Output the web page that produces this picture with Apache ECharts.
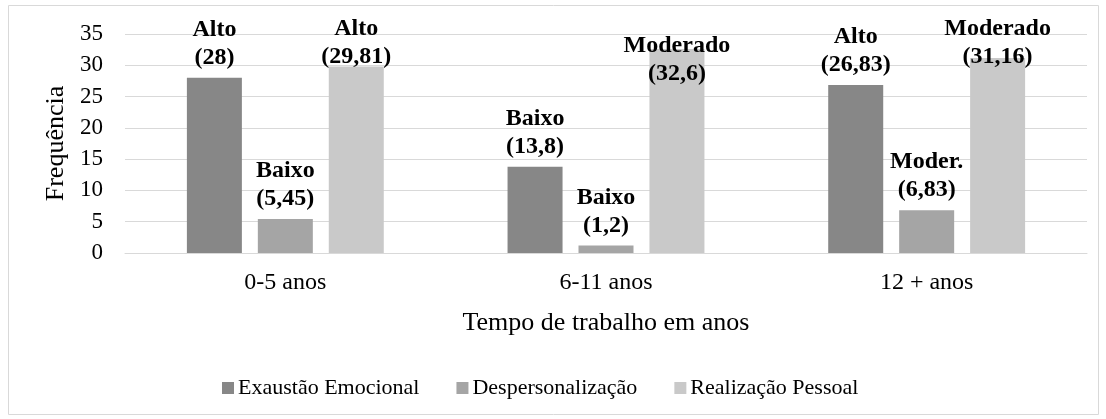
<!DOCTYPE html>
<html>
<head>
<meta charset="utf-8">
<script src="https://cdn.jsdelivr.net/npm/echarts@6/dist/echarts.min.js"></script>
<style>
  html, body { margin: 0; padding: 0; background: #fff; }
  #main { width: 1106px; height: 419px; }
</style>
</head>
<body>
<div id="main"></div>
<script>
// categorias e valores
const categorias = ['0-5 anos', '6-11 anos', '12 + anos']
const nomesSeries = ['Exaustão Emocional', 'Despersonalização', 'Realização Pessoal']
const exaustao = [28, 13.8, 26.83]
const despersonalizacao = [5.45, 1.2, 6.83]
const realizacao = [29.81, 32.6, 31.16]
const niveisExaustao = ['Alto', 'Baixo', 'Alto']
const niveisDespers = ['Baixo', 'Baixo', 'Moder.']
const niveisRealizacao = ['Alto', 'Moderado', 'Moderado']
const yTicks = [0, 5, 10, 15, 20, 25, 30, 35]

const cores = ['#878787', '#a5a5a5', '#c9c9c9']
const fonte = '"Liberation Serif", "Times New Roman", serif'

const fmt = v => String(v).replace('.', ',')

// deslocamento manual de alguns rótulos (como no Excel)
const ajusteRotulo = {
  '2-0': 10,
  '2-1': 45,
  '2-2': 19
}

const montaSerie = (idx, valores, niveis) => {
  return {
    name: nomesSeries[idx],
    type: 'bar',
    barWidth: 55,
    barGap: '29%',
    itemStyle: { color: cores[idx] },
    data: valores.map((v, i) => {
      const item = { value: v }
      const dy = ajusteRotulo[idx + '-' + i]
      if (dy) item.label = { offset: [0, dy] }
      return item
    }),
    label: {
      show: true,
      position: 'top',
      distance: 6,
      fontFamily: fonte,
      fontWeight: 'bold',
      fontSize: 24,
      lineHeight: 28,
      color: '#000',
      formatter: p => niveis[p.dataIndex] + '\n(' + fmt(p.value) + ')'
    }
  }
}

const chart = echarts.init(document.getElementById('main'))
chart.setOption({
  animation: false,
  textStyle: { fontFamily: fonte },
  graphic: [{
    type: 'rect',
    shape: { x: 8.5, y: 5.5, width: 1090, height: 409 },
    style: { fill: 'none', stroke: '#d9d9d9', lineWidth: 1 },
    silent: true
  }],
  grid: { left: 125, right: 19, top: 34, bottom: 166 },
  legend: {
    top: 372,
    left: 217,
    itemWidth: 12,
    itemHeight: 12,
    itemGap: 37,
    icon: 'rect',
    textStyle: { fontFamily: fonte, fontSize: 22, color: '#000', padding: [0, 0, 0, -1] },
    data: nomesSeries
  },
  xAxis: {
    type: 'category',
    data: categorias,
    name: 'Tempo de trabalho em anos',
    nameLocation: 'middle',
    nameGap: 57,
    nameTextStyle: { fontFamily: fonte, fontSize: 26, color: '#000' },
    axisLine: { lineStyle: { color: '#d9d9d9', width: 1 } },
    axisTick: { show: false },
    axisLabel: { fontFamily: fonte, fontSize: 24, color: '#000', margin: 18 }
  },
  yAxis: {
    type: 'value',
    min: yTicks[0],
    max: yTicks[yTicks.length - 1],
    interval: 5,
    name: 'Frequência',
    nameLocation: 'middle',
    nameGap: 51,
    nameTextStyle: { fontFamily: fonte, fontSize: 26, color: '#000' },
    axisLine: { show: false },
    axisTick: { show: false },
    axisLabel: { fontFamily: fonte, fontSize: 23, color: '#000', margin: 22 },
    splitLine: { lineStyle: { color: '#d9d9d9', width: 1 } }
  },
  series: [
    montaSerie(0, exaustao, niveisExaustao),
    montaSerie(1, despersonalizacao, niveisDespers),
    montaSerie(2, realizacao, niveisRealizacao)
  ]
})
</script>
</body>
</html>
